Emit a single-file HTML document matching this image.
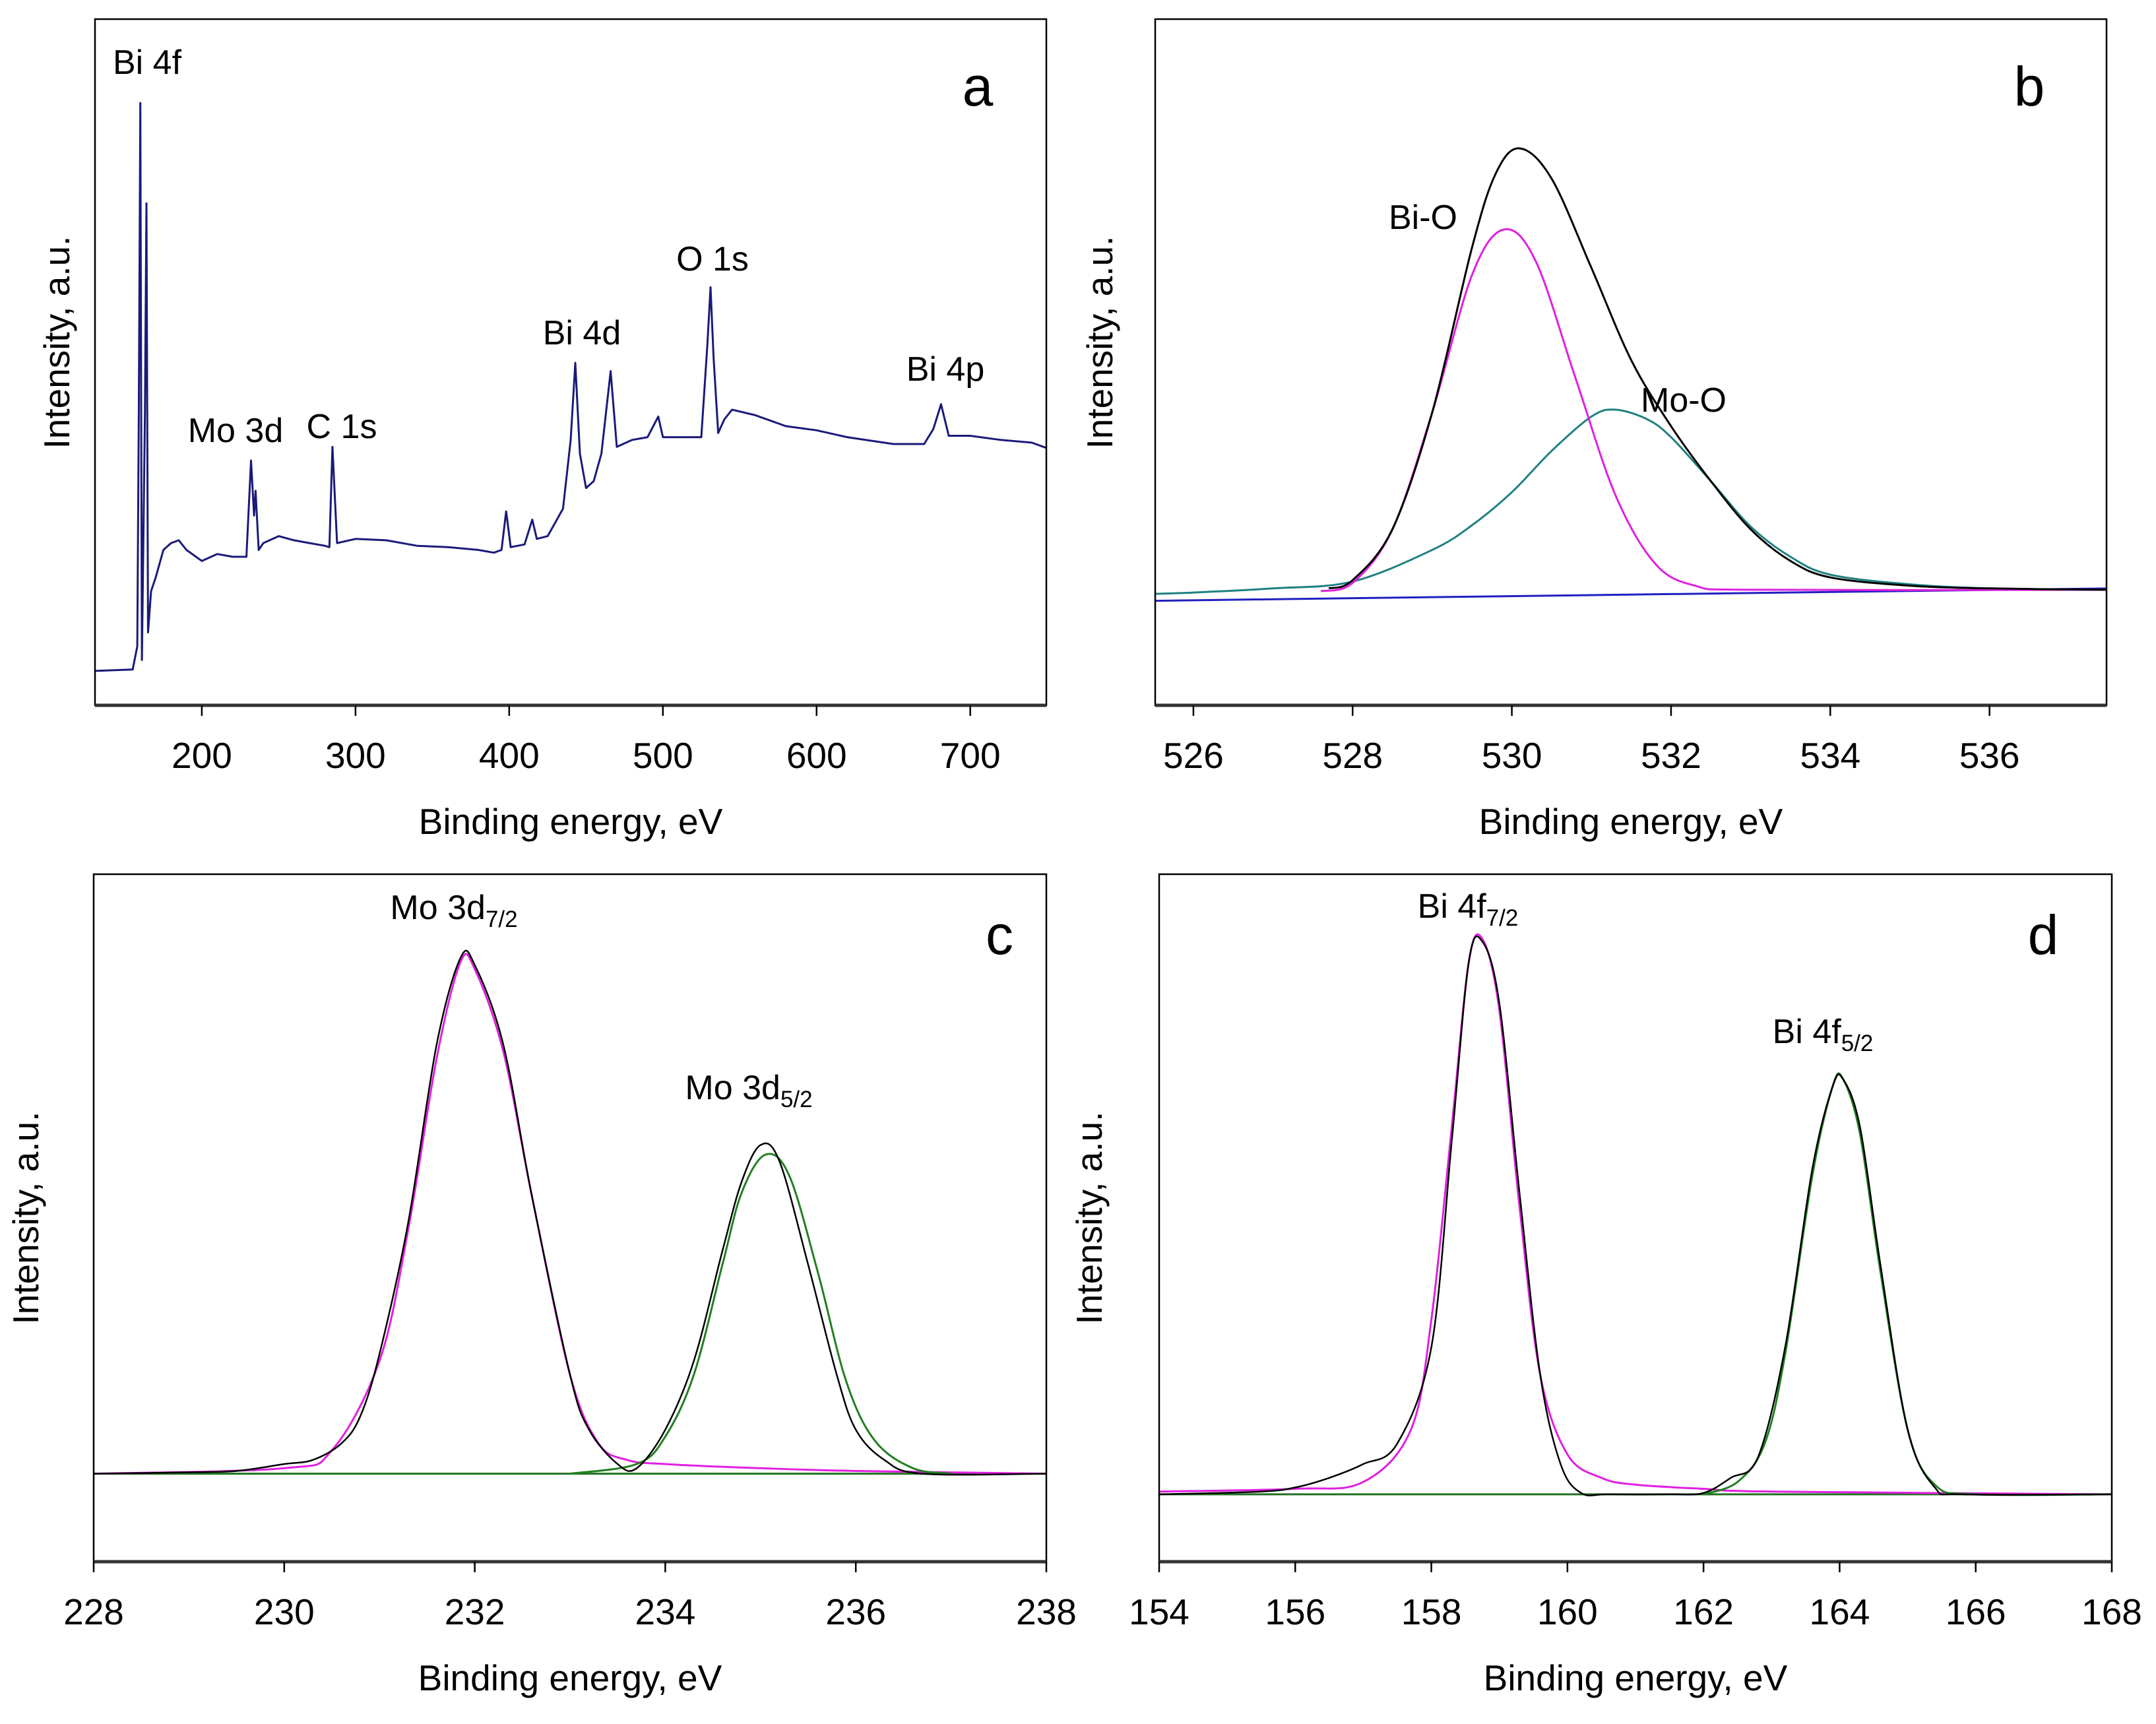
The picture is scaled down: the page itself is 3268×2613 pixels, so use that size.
<!DOCTYPE html>
<html><head><meta charset="utf-8"><style>
html,body{margin:0;padding:0;background:#fff;}
svg{display:block;font-family:"Liberation Sans",Arial,sans-serif;}
</style></head><body>
<svg id="fig" width="3268" height="2613" viewBox="0 0 3268 2613" xmlns="http://www.w3.org/2000/svg"></svg>
<script>
// ---------- Panel a: survey ----------
const aEnergy=[130,155,158,159,160,161,163,164,165,167,170,175,180,185,190,200,210,220,229,232,234,235,237,240,250,260,270,280,283,285,288,300,320,340,360,380,390,395,398,401,410,415,418,425,435,440,443,446,450,455,460,466,470,480,490,497,500,510,525,529,531,533,536,540,545,560,580,600,620,650,670,676,681,686,700,720,740,750];
const aIntensity=[512,513,530,700,925,520,700,852,540,570,580,600,605,607,600,592,597,595,595,665,625,643,600,605,610,607,605,603,602,675,605,608,607,603,602,600,598,600,628,602,604,622,608,610,630,680,736,670,645,650,670,730,675,680,682,697,682,682,682,750,791,740,685,695,702,698,690,687,682,677,677,688,706,683,683,680,678,674];
const aTicks=[200,300,400,500,600,700];
// ---------- Panel b: O 1s ----------
const bEnvE=[527.7,528,528.5,529,529.5,529.8,530.1,530.5,531,531.5,532,532.5,533,533.5,534,535,536,537.5];
const bEnvI=[572,578,615,700,820,874,892,870,805,738,690,650,615,592,580,574,572,571];
const bBiOE=[527.6,528,528.5,529,529.5,529.9,530.3,530.8,531.3,531.8,532.3,533,537.5];
const bBiOI=[570,576,615,700,800,833,810,725,640,590,574,571,571];
const bMoOE=[525.5,526,527,528,529,529.5,530,530.5,531,531.3,531.7,532,532.5,533,533.5,534,535,536,537.5];
const bMoOI=[568,569,572,577,600,618,642,672,697,702,695,682,650,617,595,582,575,572,571];
const bBaseE=[525.5,537.5];
const bBaseI=[563,572];
const bTicks=[526,528,530,532,534,536];
// ---------- Panel c: Mo 3d ----------
const cDataE=[228,229,229.5,230,230.3,230.6,230.8,231,231.3,231.6,231.85,232,232.3,232.6,233,233.2,233.5,233.7,234,234.3,234.6,234.8,235,235.2,235.5,235.8,236,236.3,236.7,238];
const cDataI=[928,929,930,935,938,950,970,1015,1110,1240,1303,1298,1240,1130,1000,960,935,932,960,1010,1090,1140,1167,1155,1080,1000,960,938,928,928];
const cFit1E=[228,230,230.5,231,231.3,231.6,231.85,232,232.3,232.6,233,233.3,233.6,234,235,236,238];
const cFit1I=[928,932,945,1010,1105,1230,1300,1295,1235,1130,1000,950,938,935,932,930,928];
const cFit2E=[233,233.7,234,234.3,234.6,234.8,235.05,235.3,235.6,235.9,236.2,236.6,237];
const cFit2I=[928,935,955,1000,1080,1132,1160,1145,1075,995,952,932,928];
const cBaseE=[228,238];
const cBaseI=[928,928];
const cTicks=[228,230,232,234,236,238];
// ---------- Panel d: Bi 4f ----------
const dDataE=[154,155.5,156,156.5,157,157.5,158,158.3,158.55,158.75,159,159.3,159.6,159.9,160.2,160.6,161.5,162,162.4,162.8,163.2,163.6,163.9,164.05,164.3,164.6,165,165.4,165.8,168];
const dDataI=[913,915,918,925,935,950,1020,1170,1300,1315,1270,1130,1000,935,914,913,913,914,925,940,1020,1150,1210,1215,1180,1080,960,918,913,913];
const dFit1E=[154,156,157,157.7,158,158.3,158.55,158.75,159,159.3,159.6,160,160.5,161,162,163,168];
const dFit1I=[915,917,922,960,1040,1180,1300,1317,1265,1120,1000,942,925,920,917,915,913];
const dFit2E=[162,162.5,162.9,163.2,163.6,163.9,164.05,164.3,164.6,165,165.4,166,168];
const dFit2I=[913,922,950,1015,1145,1210,1215,1175,1075,960,920,913,913];
const dBaseE=[154,168];
const dBaseI=[913,913];
const dTicks=[154,156,158,160,162,164,166,168];

const NS="http://www.w3.org/2000/svg";
const fig=document.getElementById('fig');
function el(tag,attrs,parent,text){const e=document.createElementNS(NS,tag);for(const k in attrs)e.setAttribute(k,attrs[k]);if(text!==undefined)e.textContent=text;(parent||fig).appendChild(e);return e;}

function smoothPath(P){
  if(P.length<3)return 'M'+P.map(p=>p[0].toFixed(1)+','+p[1].toFixed(1)).join(' L');
  let d='M'+P[0][0].toFixed(1)+','+P[0][1].toFixed(1);
  for(let i=0;i<P.length-1;i++){
    const p0=P[Math.max(0,i-1)],p1=P[i],p2=P[i+1],p3=P[Math.min(P.length-1,i+2)];
    const t=0.5/3;
    let c1x=p1[0]+(p2[0]-p0[0])*t,c1y=p1[1]+(p2[1]-p0[1])*t;
    let c2x=p2[0]-(p3[0]-p1[0])*t,c2y=p2[1]-(p3[1]-p1[1])*t;
    c1x=Math.min(Math.max(c1x,p1[0]),p2[0]);c2x=Math.min(Math.max(c2x,p1[0]),p2[0]);
    d+=' C'+c1x.toFixed(1)+','+c1y.toFixed(1)+' '+c2x.toFixed(1)+','+c2y.toFixed(1)+' '+p2[0].toFixed(1)+','+p2[1].toFixed(1);
  }
  return d;
}

function panel(cfg){
  const g=el('g',{});
  
  
  const sx=v=>cfg.L+(v-cfg.x0)/(cfg.x1-cfg.x0)*(cfg.R-cfg.L);
  const sy=v=>cfg.B-(v-cfg.y0)/(cfg.y1-cfg.y0)*(cfg.B-cfg.T);
  const clipId='clip-'+cfg.id;
  const cp=el('clipPath',{id:clipId},g);
  el('rect',{x:cfg.L,y:cfg.T,width:cfg.R-cfg.L,height:cfg.B-cfg.T},cp);
  const sg=el('g',{'clip-path':'url(#'+clipId+')'},g);
  cfg.series.forEach(s=>{
    const P=s.e.map((e,i)=>[sx(e),sy(s.i[i])]);
    const d=cfg.smooth?smoothPath(P):'M'+P.map(p=>p[0].toFixed(1)+','+p[1].toFixed(1)).join(' L');
    const p=el('path',{d:d,fill:'none',stroke:s.color,'stroke-width':s.w||3,'stroke-linejoin':'round'},sg);
    
    
  });
  const fr=el('rect',{x:cfg.L,y:cfg.T,width:cfg.R-cfg.L,height:cfg.B-cfg.T,fill:'none',stroke:'#000','stroke-width':2.5},g);
  
  
  el('line',{x1:cfg.L,y1:cfg.B,x2:cfg.R,y2:cfg.B,stroke:'#333','stroke-width':5},g);
  cfg.ticks.forEach(t=>{
    const x=sx(t);
    el('line',{x1:x,y1:cfg.B,x2:x,y2:cfg.B+16,stroke:'#000','stroke-width':2.5},g);
    const tl=el('text',{x:x,y:cfg.B+95,'font-size':55,'text-anchor':'middle',fill:'#000'},g,String(t));
    
    
  });
  const xt=el('text',{x:(cfg.L+cfg.R)/2,y:cfg.B+195,'font-size':55,'text-anchor':'middle',fill:'#000'},g,'Binding energy, eV');
  
  
  const yx=cfg.ytx,yy=(cfg.T+cfg.B)/2+cfg.yto;
  const yt=el('text',{x:yx,y:yy,'font-size':55,'text-anchor':'middle',fill:'#000',transform:'rotate(-90 '+yx+' '+yy+')'},g,'Intensity, a.u.');
  
  
  const lt=el('text',{x:cfg.letter[0],y:cfg.letter[1],'font-size':84,'text-anchor':'middle',fill:'#000'},g,cfg.id);
  
  
  cfg.labels.forEach(l=>{
    const t=el('text',{x:l.x,y:l.y,'font-size':52,'text-anchor':'middle',fill:'#000'},g);
    
    
    el('tspan',{},t,l.t);
    if(l.sub){el('tspan',{'font-size':35,dy:12},t,l.sub);}
  });
}

panel({id:'a',L:144,R:1586,T:29,B:1069,x0:130.5,x1:749.5,y0:487,y1:986,ticks:aTicks,ytx:105,yto:-30,letter:[1482,160],smooth:false,
  series:[{e:aEnergy,i:aIntensity,color:'#1a1a7a',name:'survey-spectrum'}],
  labels:[{x:223,y:112,t:'Bi 4f',name:'label-bi-4f'},{x:357,y:670,t:'Mo 3d',name:'label-mo-3d'},{x:518,y:664,t:'C 1s',name:'label-c-1s'},{x:882,y:522,t:'Bi 4d',name:'label-bi-4d'},{x:1080,y:410,t:'O 1s',name:'label-o-1s'},{x:1433,y:577,t:'Bi 4p',name:'label-bi-4p'}]});

panel({id:'b',L:1751,R:3193,T:29,B:1069,x0:525.52,x1:537.47,y0:487,y1:986,ticks:bTicks,ytx:1686,yto:-30,letter:[3076,160],smooth:true,
  series:[{e:bBaseE,i:bBaseI,color:'#2020c0',name:'baseline'},{e:bMoOE,i:bMoOI,color:'#1f8080',name:'mo-o-fit'},{e:bBiOE,i:bBiOI,color:'#e020e0',name:'bi-o-fit'},{e:bEnvE,i:bEnvI,color:'#000',name:'envelope'}],
  labels:[{x:2157,y:347,t:'Bi-O',name:'label-bi-o'},{x:2552,y:624,t:'Mo-O',name:'label-mo-o'}]});

panel({id:'c',L:142,R:1586,T:1325,B:2367,x0:228,x1:238,y0:864,y1:1364,ticks:cTicks,ytx:58,yto:0,letter:[1515,1446],smooth:true,
  series:[{e:cBaseE,i:cBaseI,color:'#207020',name:'baseline'},{e:cFit1E,i:cFit1I,color:'#e020e0',name:'mo-3d72-fit'},{e:cFit2E,i:cFit2I,color:'#208020',name:'mo-3d52-fit'},{e:cDataE,i:cDataI,color:'#000',w:2.5,name:'mo-3d-data'}],
  labels:[{x:688,y:1393,t:'Mo 3d',sub:'7/2',name:'label-mo-3d72'},{x:1135,y:1666,t:'Mo 3d',sub:'5/2',name:'label-mo-3d52'}]});

panel({id:'d',L:1757,R:3201,T:1325,B:2367,x0:154,x1:168,y0:864,y1:1364,ticks:dTicks,ytx:1670,yto:0,letter:[3097,1446],smooth:true,
  series:[{e:dBaseE,i:dBaseI,color:'#207020',name:'baseline'},{e:dFit1E,i:dFit1I,color:'#e020e0',name:'bi-4f72-fit'},{e:dFit2E,i:dFit2I,color:'#208020',name:'bi-4f52-fit'},{e:dDataE,i:dDataI,color:'#000',w:2.5,name:'bi-4f-data'}],
  labels:[{x:2225,y:1391,t:'Bi 4f',sub:'7/2',name:'label-bi-4f72'},{x:2763,y:1581,t:'Bi 4f',sub:'5/2',name:'label-bi-4f52'}]});
</script>
</body></html>
